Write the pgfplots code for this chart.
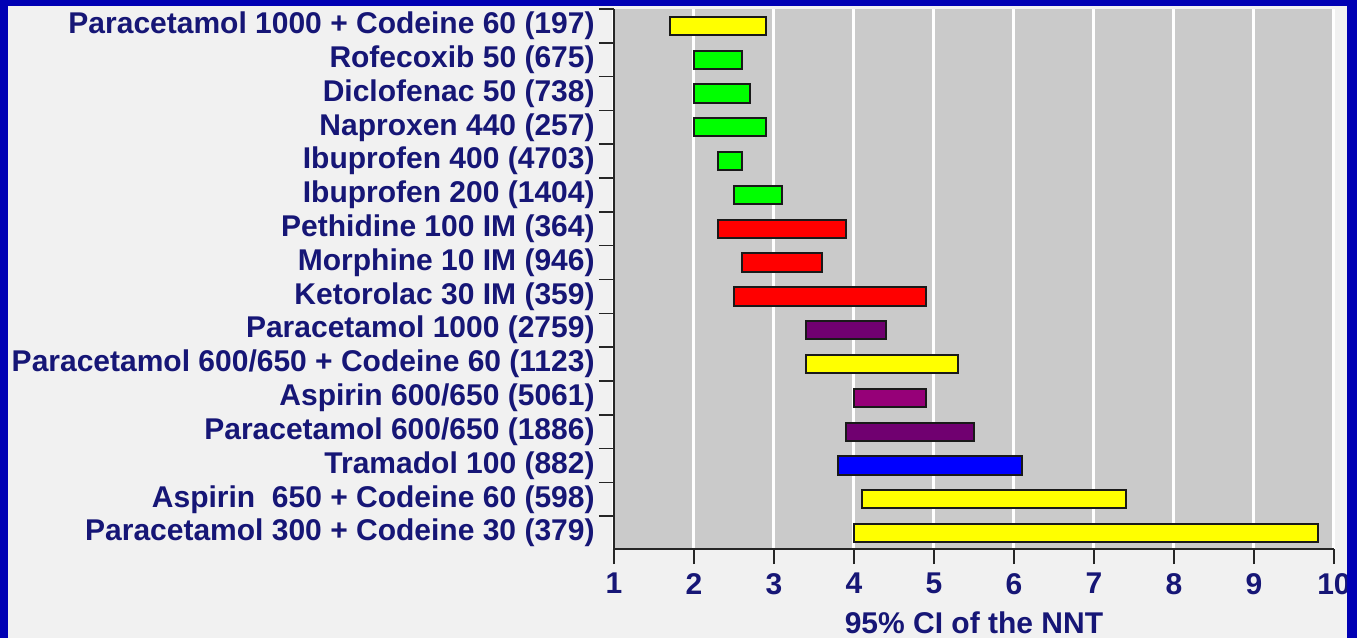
\documentclass[border=0pt]{standalone}
\usepackage{pgfplots}
\pgfplotsset{compat=1.18}
\usepackage{fontspec}
\setmainfont{Liberation Sans}
\definecolor{frameblue}{RGB}{0,0,180}
\definecolor{outerbg}{RGB}{241,241,241}
\definecolor{plotgrey}{RGB}{202,202,202}
\definecolor{navy}{RGB}{22,22,118}
\definecolor{cYellow}{RGB}{255,255,0}
\definecolor{cGreen}{RGB}{0,255,0}
\definecolor{cRed}{RGB}{255,0,0}
\definecolor{cPurple}{RGB}{112,0,112}
\definecolor{cMagenta}{RGB}{150,0,120}
\definecolor{cBlue}{RGB}{0,0,255}
% bar: y-bottom, y-top, lower CI, upper CI, colour
\newcommand{\nntbar}[5]{\addplot[fill=#5, draw=black!90, line width=1pt] coordinates {(#3,#1) (#4,#1) (#4,#2) (#3,#2)} -- cycle;}
\begin{document}
\begin{tikzpicture}[x=1pt,y=1pt]
\useasboundingbox (0,0) rectangle (678.5,319);
\fill[frameblue] (0,0) rectangle (678.5,319);
\fill[outerbg] (4,0) rectangle (673.5,316);
\begin{axis}[
  at={(307pt,44.5pt)}, anchor=south west,
  scale only axis, width=360pt, height=270pt,
  xmin=1, xmax=10, ymin=0.53, ymax=16.5,
  axis x line*=bottom, axis y line*=left,
  axis line style={line width=1pt, black!85, -},
  axis background/.style={fill=plotgrey},
  xtick={1,2,3,4,5,6,7,8,9,10},
  ytick={1,2,3,4,5,6,7,8,9,10,11,12,13,14,15,16},
  yticklabels={
    Paracetamol 300 + Codeine 30 (379),
    Aspirin\ \ 650 + Codeine 60 (598),
    Tramadol 100 (882),
    Paracetamol 600/650 (1886),
    Aspirin 600/650 (5061),
    Paracetamol 600/650 + Codeine 60 (1123),
    Paracetamol 1000 (2759),
    Ketorolac 30 IM (359),
    Morphine 10 IM (946),
    Pethidine 100 IM (364),
    Ibuprofen 200 (1404),
    Ibuprofen 400 (4703),
    Naproxen 440 (257),
    Diclofenac 50 (738),
    Rofecoxib 50 (675),
    Paracetamol 1000 + Codeine 60 (197)},
  minor ytick={1.5,2.5,3.5,4.5,5.5,6.5,7.5,8.5,9.5,10.5,11.5,12.5,13.5,14.5,15.5,16.5},
  tick align=outside,
  major tick length=7.5pt,
  minor tick length=7.5pt,
  major y tick style={draw=none},
  minor y tick style={draw=black!85, line width=0.8pt},
  x tick style={draw=black!85, line width=0.8pt},
  xmajorgrids,
  major x grid style={white, line width=1.5pt},
  /pgf/number format/assume math mode=true,
  tick label style={font=\fontsize{15}{18}\selectfont\bfseries, text=navy},
  yticklabel style={inner sep=2pt},
  xticklabel style={yshift=-1pt},
  xlabel={95\% CI of the NNT},
  xlabel style={font=\fontsize{15}{18}\selectfont\bfseries, text=navy,
    at={(axis description cs:0.5,0)}, anchor=center, yshift=-37pt},
]
\nntbar{15.73}{16.27}{1.7}{2.9}{cYellow}
\nntbar{14.73}{15.27}{2.0}{2.6}{cGreen}
\nntbar{13.73}{14.27}{2.0}{2.7}{cGreen}
\nntbar{12.73}{13.27}{2.0}{2.9}{cGreen}
\nntbar{11.73}{12.27}{2.3}{2.6}{cGreen}
\nntbar{10.73}{11.27}{2.5}{3.1}{cGreen}
\nntbar{9.73}{10.27}{2.3}{3.9}{cRed}
\nntbar{8.73}{9.27}{2.6}{3.6}{cRed}
\nntbar{7.73}{8.27}{2.5}{4.9}{cRed}
\nntbar{6.73}{7.27}{3.4}{4.4}{cPurple}
\nntbar{5.73}{6.27}{3.4}{5.3}{cYellow}
\nntbar{4.73}{5.27}{4.0}{4.9}{cMagenta}
\nntbar{3.73}{4.27}{3.9}{5.5}{cPurple}
\nntbar{2.73}{3.27}{3.8}{6.1}{cBlue}
\nntbar{1.73}{2.27}{4.1}{7.4}{cYellow}
\nntbar{0.73}{1.27}{4.0}{9.8}{cYellow}
\end{axis}
\fill[frameblue] (673.5,0) rectangle (678.5,319);
\fill[frameblue] (0,316) rectangle (678.5,319);
\end{tikzpicture}
\end{document}
